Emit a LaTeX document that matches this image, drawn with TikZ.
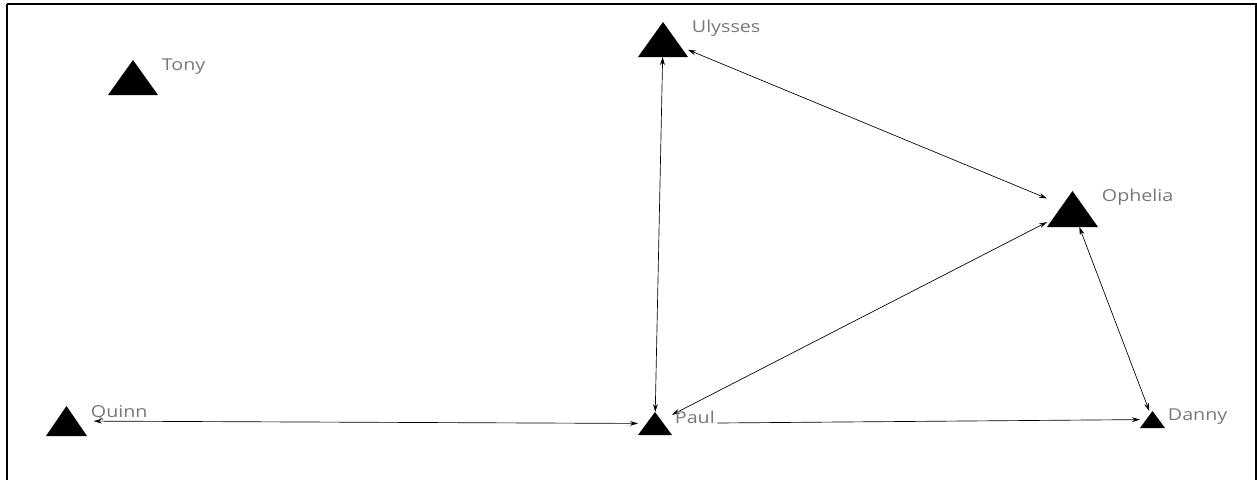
\documentclass[tikz,border=0pt]{standalone}
\usepackage{fontspec}
\setsansfont{Open Sans}[FakeStretch=1.2]
\usetikzlibrary{arrows.meta}
\definecolor{labelgray}{RGB}{120,120,120}
\tikzset{
  tri/.style 2 args={inner sep=0pt, outer sep=0pt, draw=none,
    minimum width=#1*0.75pt, minimum height=#2*0.75pt},
  lbl/.style={anchor=west, inner sep=0.5pt, text=labelgray,
    font=\sffamily\fontsize{12.3}{14}\selectfont},
  link/.style={line width=0.5pt, draw=black},
  tip/.style={-{Stealth[length=6pt,width=3.6pt]}},
  tips/.style={{Stealth[length=6pt,width=3.6pt]}-{Stealth[length=6pt,width=3.6pt]}}
}
\begin{document}
\begin{tikzpicture}[x=0.75pt, y=-0.75pt]
\useasboundingbox (0,0) rectangle (1257,479);
\draw[line width=1.6pt] (7,4) -- (1256,4) -- (1256,495) (7,495) -- (7,4);

% nodes (invisible boxes, triangles filled below)
\node[tri={50}{35}] (U) at (663,39.5) {};
\node[tri={50}{35}] (T) at (133,77.5) {};
\node[tri={51}{36}] (O) at (1072.5,209) {};
\node[tri={41}{30}] (Q) at (66.5,421) {};
\node[tri={34}{23}] (P) at (655,423.5) {};
\node[tri={25}{17}] (D) at (1152.5,419.5) {};
\foreach \n in {U,T,O,Q,P,D}
  \fill[black] (\n.north) -- (\n.south east) -- (\n.south west) -- cycle;

% connectors
\draw[link,tips] (U) -- (P);
\draw[link,tips] (U) -- (O);
\draw[link,tips] (O) -- (D);
\draw[link,tips] (P) -- (O);
\draw[link,tips,shorten <=5pt] (Q) -- (P);
\draw[link,tip,shorten <=34pt] (P) -- (D);

% labels
\node[lbl] (Ulab) at (691,28) {Ulysses};
\node[lbl] (Tlab) at (161,67) {Tony};
\node[lbl] (Olab) at (1101,197) {Ophelia};
\node[lbl] (Qlab) at (90,413) {Quinn};
\node[lbl] (Plab) at (674,417) {Paul};
\node[lbl] (Dlab) at (1167,417) {Danny};
\end{tikzpicture}
\end{document}
